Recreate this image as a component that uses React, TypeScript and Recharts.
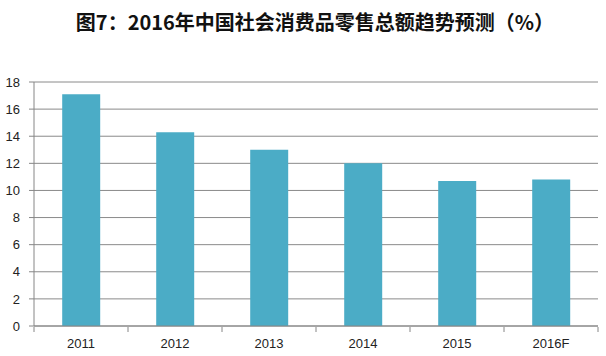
import { BarChart, Bar, XAxis, YAxis, CartesianGrid } from "recharts"

const years = ["2011", "2012", "2013", "2014", "2015", "2016F"]
const growth = [17.1, 14.3, 13.0, 12.0, 10.7, 10.8]
const yTicks = [0, 2, 4, 6, 8, 10, 12, 14, 16, 18]

const data = years.map((year, i) => ({ year, value: growth[i] }))

const CHART_W = 606
const CHART_H = 356
const MARGIN = { top: 82, right: 8, left: 0, bottom: 0 }
const Y_AXIS_W = 34
const BAND = (CHART_W - MARGIN.left - MARGIN.right - Y_AXIS_W) / years.length

function CategoryTick(props: any) {
    const { x, y, payload, index } = props
    const left = x - BAND / 2
    return (
        <g>
            <line x1={left} x2={left} y1={y - 9} y2={y - 4} stroke="#868686" />
            {index === years.length - 1 && (
                <line x1={left + BAND} x2={left + BAND} y1={y - 9} y2={y - 4} stroke="#868686" />
            )}
            <text x={x} y={y + 12} textAnchor="middle" fontSize={13} fill="#222"
                fontFamily="'Liberation Sans', Arial, sans-serif">
                {payload.value}
            </text>
        </g>
    )
}

export default function App() {
    return (
        <div style={{ position: "absolute", left: 0, top: 0, width: CHART_W, height: CHART_H, background: "#fff" }}>
            <div style={{
                position: "absolute",
                top: 8,
                left: 0,
                width: CHART_W,
                textAlign: "center",
                fontFamily: "'Noto Sans CJK SC', sans-serif",
                fontWeight: 700,
                fontSize: 20,
                lineHeight: "28px",
                color: "#111",
                paddingLeft: 24,
                boxSizing: "border-box",
            }}>
                图7：2016年中国社会消费品零售总额趋势预测（%）
            </div>
            <BarChart width={CHART_W} height={CHART_H} data={data} margin={MARGIN} barCategoryGap="30%">
                <CartesianGrid horizontal vertical={false} stroke="#8a8a8a" />
                <XAxis
                    dataKey="year"
                    height={30}
                    tickLine={false}
                    axisLine={{ stroke: "#868686" }}
                    tick={<CategoryTick />}
                    tickMargin={4}
                    interval={0}
                />
                <YAxis
                    width={Y_AXIS_W}
                    domain={[0, 18]}
                    ticks={yTicks}
                    interval={0}
                    tickSize={5}
                    tickMargin={9}
                    tickLine={{ stroke: "#868686" }}
                    axisLine={{ stroke: "#868686" }}
                    tick={{ fontSize: 13, fill: "#222", fontFamily: "'Liberation Sans', Arial, sans-serif" }}
                />
                <Bar dataKey="value" fill="#4bacc6" maxBarSize={38} isAnimationActive={false} />
            </BarChart>
        </div>
    )
}
